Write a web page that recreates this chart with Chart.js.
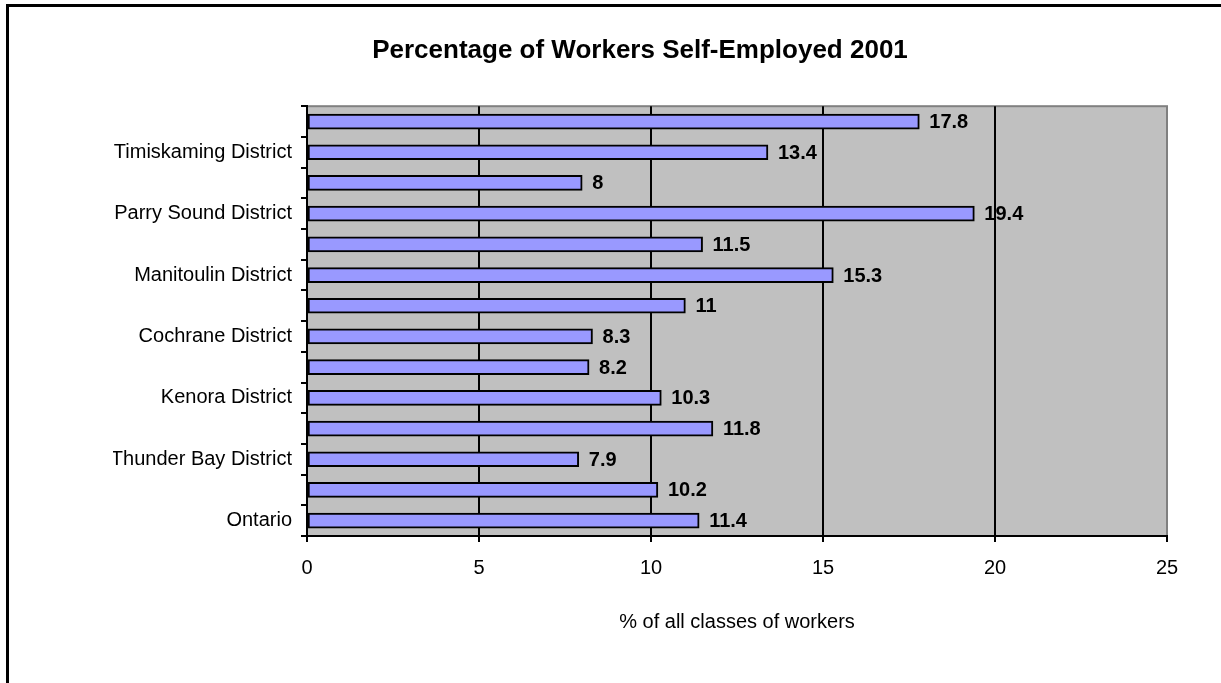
<!DOCTYPE html>
<html>
<head>
<meta charset="utf-8">
<title>Percentage of Workers Self-Employed 2001</title>
<script src="https://cdn.jsdelivr.net/npm/chart.js@4"></script>
<style>
  html, body { margin: 0; padding: 0; background: #fff; overflow: hidden; }
  #frame { position: absolute; left: 6px; top: 4px; width: 1400px; height: 900px;
           border-left: 3px solid #000; border-top: 3px solid #000; }
  #myChart { position: absolute; left: 0; top: 0; }
</style>
</head>
<body>
<div id="frame"></div>
<canvas id="myChart" width="1221" height="683"></canvas>
<script>
// categories listed top to bottom, as in the picture
const districts = [
    'Muskoka District',
    'Timiskaming District',
    'Greater Sudbury',
    'Parry Sound District',
    'Nipissing District',
    'Manitoulin District',
    'Sudbury District',
    'Cochrane District',
    'Algoma District',
    'Kenora District',
    'Rainy River District',
    'Thunder Bay District',
    'Northern Ontario',
    'Ontario'
];
const selfEmployed = [17.8, 13.4, 8, 19.4, 11.5, 15.3, 11, 8.3, 8.2, 10.3, 11.8, 7.9, 10.2, 11.4];
const xTicks = [0, 5, 10, 15, 20, 25];

const FONT = "'Liberation Sans', Arial, sans-serif";

// gray plot area with a gray frame on top and right
const plotBack = {
    id: 'plotBack',
    beforeDraw(chart) {
        const { ctx, chartArea: a } = chart;
        ctx.save();
        ctx.fillStyle = '#C0C0C0';
        ctx.fillRect(a.left, a.top, a.right - a.left, a.bottom - a.top);
        ctx.strokeStyle = '#808080';
        ctx.lineWidth = 2;
        ctx.strokeRect(a.left, a.top, a.right - a.left, a.bottom - a.top);
        ctx.restore();
    }
};

// value labels to the right of each bar
const barLabels = {
    id: 'barLabels',
    afterDatasetsDraw(chart) {
        const { ctx } = chart;
        const meta = chart.getDatasetMeta(0);
        ctx.save();
        ctx.font = 'bold 20px ' + FONT;
        ctx.fillStyle = '#000';
        ctx.textAlign = 'left';
        ctx.textBaseline = 'middle';
        meta.data.forEach((bar, i) => {
            ctx.fillText(String(selfEmployed[i]), bar.x + 10, bar.y + 1);
        });
        ctx.restore();
    }
};

const ctx = document.getElementById('myChart').getContext('2d');
const myChart = new Chart(ctx, {
    type: 'bar',
    data: {
        labels: districts,
        datasets: [{
            data: selfEmployed,
            backgroundColor: '#9999FF',
            borderColor: '#000',
            borderWidth: 2,
            borderSkipped: false,
            barThickness: 15
        }]
    },
    options: {
        indexAxis: 'y',
        responsive: false,
        animation: false,
        devicePixelRatio: 1,
        layout: { padding: { left: 113, right: 54, top: 0, bottom: 0 } },
        plugins: {
            legend: { display: false },
            tooltip: { enabled: false },
            title: {
                display: true,
                text: 'Percentage of Workers Self-Employed 2001',
                color: '#000',
                font: { family: FONT, size: 26, weight: 'bold' },
                padding: { top: 35, bottom: 40 }
            }
        },
        scales: {
            x: {
                type: 'linear',
                position: 'bottom',
                min: 0,
                max: 25,
                afterBuildTicks: scale => { scale.ticks = xTicks.map(v => ({ value: v })); },
                afterFit: scale => { scale.height = 147; },
                grid: {
                    color: c => (c.tick && c.tick.value === 25) ? '#808080' : '#000',
                    lineWidth: 2,
                    drawTicks: true,
                    tickLength: 6,
                    tickColor: '#000',
                    tickWidth: 2
                },
                border: { display: true, color: '#000', width: 2 },
                ticks: {
                    color: '#000',
                    font: { family: FONT, size: 20 },
                    padding: 14
                },
                title: {
                    display: true,
                    text: '% of all classes of workers',
                    color: '#000',
                    font: { family: FONT, size: 20 },
                    padding: { top: 10, bottom: 49 }
                }
            },
            y: {
                type: 'category',
                afterFit: scale => { scale.width = 307 - 113; },
                grid: {
                    drawOnChartArea: false,
                    offset: true,
                    drawTicks: true,
                    tickLength: 6,
                    color: '#000',
                    tickColor: '#000',
                    tickWidth: 2,
                    lineWidth: 2
                },
                border: { display: true, color: '#000', width: 2 },
                ticks: {
                    autoSkip: false,
                    color: '#000',
                    font: { family: FONT, size: 20 },
                    padding: 9,
                    callback: function (value, index) {
                        return index % 2 === 1 ? this.getLabelForValue(value) : '';
                    }
                }
            }
        }
    },
    plugins: [plotBack, barLabels]
});
</script>
</body>
</html>
